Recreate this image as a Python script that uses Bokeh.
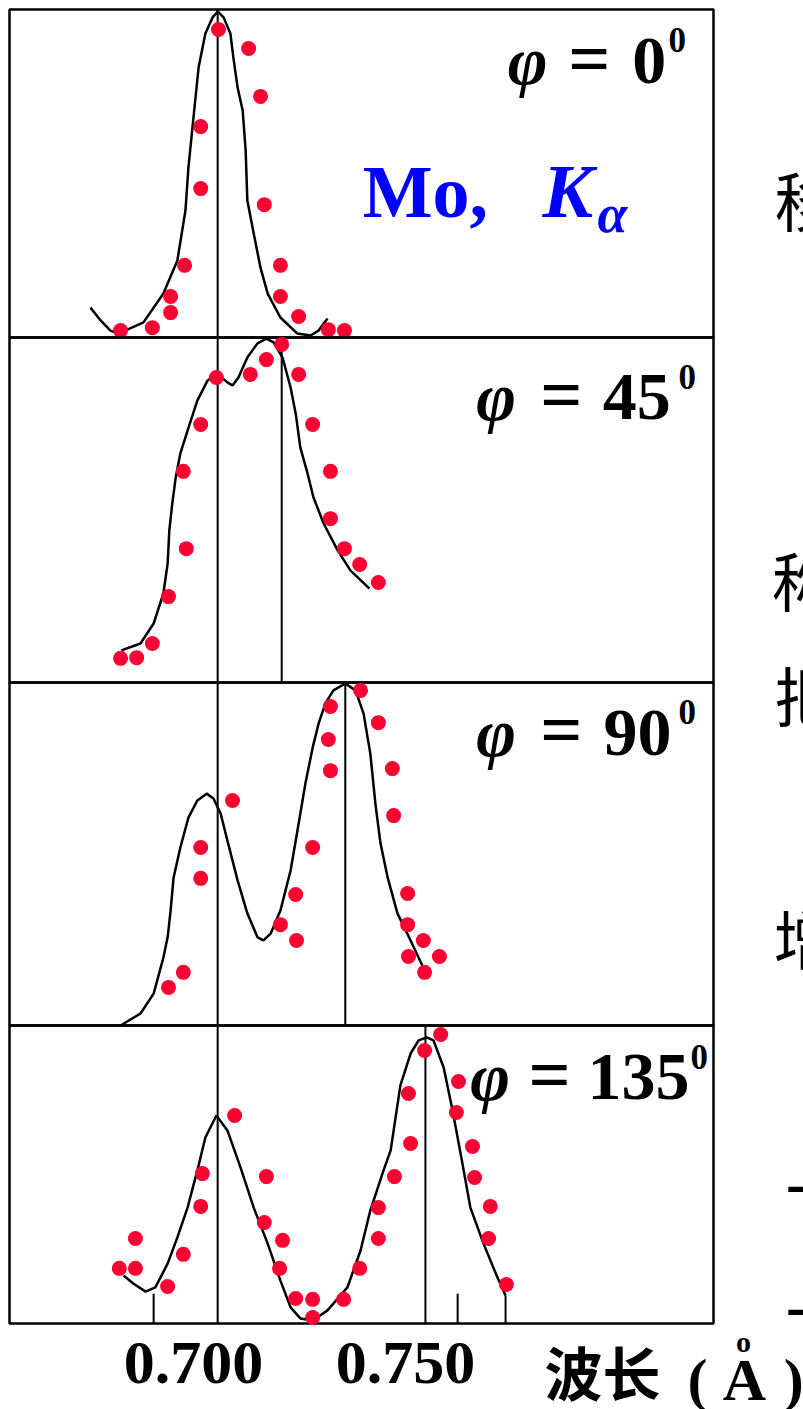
from bokeh.plotting import figure
from bokeh.models import Range1d, Label
from bokeh.embed import file_html
from bokeh.resources import INLINE
from bokeh.core.properties import value

# Compton scattering of Mo K-alpha: intensity vs wavelength (Å) for four angles.
# Intensities are relative to the height of each panel.

angles = ["0", "45", "90", "135"]
unshifted_line = 0.7057
shifted_lines = [None, 0.7208, 0.7358, 0.7547]

# phi = 0
curve_wl_0 = [0.6757, 0.6781, 0.6804, 0.6823, 0.6882, 0.6929, 0.6962, 0.6981, 0.6988, 0.7000,
              0.7012, 0.7028, 0.7045, 0.7057, 0.7071, 0.7087, 0.7094, 0.7104, 0.7116, 0.7123,
              0.7127, 0.7142, 0.7158, 0.7175, 0.7205, 0.7245, 0.7276, 0.7295, 0.7316]
curve_i_0 = [0.091, 0.052, 0.021, 0.012, 0.046, 0.134, 0.235, 0.387, 0.518, 0.671,
             0.823, 0.927, 0.976, 0.994, 0.976, 0.927, 0.854, 0.762, 0.692, 0.570,
             0.418, 0.317, 0.213, 0.134, 0.061, 0.012, 0.006, 0.021, 0.058]
meas_wl_0 = [0.6828, 0.6903, 0.6946, 0.6946, 0.6979, 0.7017, 0.7017, 0.7059, 0.7130, 0.7158,
             0.7167, 0.7205, 0.7205, 0.7248, 0.7318, 0.7356]
meas_i_0 = [0.021, 0.030, 0.076, 0.125, 0.220, 0.454, 0.643, 0.939, 0.881, 0.735,
            0.405, 0.220, 0.125, 0.064, 0.024, 0.021]

# phi = 45
curve_wl_45 = [0.6830, 0.6875, 0.6906, 0.6929, 0.6939, 0.6943, 0.6950, 0.6958, 0.6969, 0.6986,
               0.7009, 0.7033, 0.7054, 0.7080, 0.7092, 0.7106, 0.7127, 0.7151, 0.7172, 0.7189,
               0.7210, 0.7229, 0.7241, 0.7252, 0.7269, 0.7283, 0.7307, 0.7340, 0.7370, 0.7415]
curve_i_45 = [0.093, 0.113, 0.171, 0.258, 0.345, 0.441, 0.519, 0.594, 0.664, 0.730,
              0.817, 0.875, 0.896, 0.870, 0.861, 0.884, 0.942, 0.983, 0.997, 0.986,
              0.942, 0.855, 0.780, 0.681, 0.606, 0.536, 0.461, 0.383, 0.325, 0.272]
meas_wl_45 = [0.6828, 0.6866, 0.6903, 0.6941, 0.6983, 0.6976, 0.7017, 0.7054, 0.7134, 0.7172,
              0.7208, 0.7248, 0.7281, 0.7323, 0.7323, 0.7356, 0.7392, 0.7436]
meas_i_45 = [0.070, 0.072, 0.113, 0.249, 0.388, 0.612, 0.748, 0.884, 0.893, 0.936,
             0.980, 0.893, 0.748, 0.612, 0.475, 0.388, 0.342, 0.290]

# phi = 90
curve_wl_90 = [0.6828, 0.6875, 0.6906, 0.6929, 0.6939, 0.6946, 0.6953, 0.6969, 0.6988, 0.7009,
               0.7031, 0.7047, 0.7064, 0.7080, 0.7104, 0.7127, 0.7151, 0.7165, 0.7182, 0.7205,
               0.7229, 0.7248, 0.7264, 0.7281, 0.7295, 0.7311, 0.7330, 0.7358, 0.7382, 0.7401,
               0.7417, 0.7429, 0.7441, 0.7458, 0.7481, 0.7512, 0.7554]
curve_i_90 = [0.000, 0.035, 0.093, 0.198, 0.257, 0.335, 0.431, 0.519, 0.606, 0.656,
              0.676, 0.662, 0.618, 0.539, 0.423, 0.327, 0.257, 0.248, 0.268, 0.335,
              0.452, 0.589, 0.706, 0.810, 0.880, 0.939, 0.977, 0.997, 0.977, 0.910,
              0.793, 0.647, 0.531, 0.431, 0.327, 0.248, 0.137]
meas_wl_90 = [0.6941, 0.6976, 0.7017, 0.7017, 0.7092, 0.7205, 0.7243, 0.7241, 0.7281, 0.7323,
              0.7318, 0.7323, 0.7394, 0.7436, 0.7469, 0.7472, 0.7505, 0.7505, 0.7542, 0.7507,
              0.7580, 0.7545]
meas_i_90 = [0.111, 0.155, 0.429, 0.519, 0.656, 0.294, 0.248, 0.382, 0.519, 0.743,
             0.834, 0.930, 0.977, 0.883, 0.749, 0.612, 0.385, 0.294, 0.248, 0.201,
             0.201, 0.155]

# phi = 135
curve_wl_135 = [0.6835, 0.6858, 0.6887, 0.6910, 0.6939, 0.6962, 0.6986, 0.7009, 0.7028, 0.7054,
                0.7080, 0.7111, 0.7142, 0.7175, 0.7205, 0.7229, 0.7252, 0.7281, 0.7316, 0.7363,
                0.7394, 0.7417, 0.7448, 0.7465, 0.7488, 0.7512, 0.7531, 0.7550, 0.7566, 0.7590,
                0.7611, 0.7630, 0.7653, 0.7684, 0.7717, 0.7736]
curve_i_135 = [0.161, 0.134, 0.107, 0.121, 0.201, 0.289, 0.389, 0.513, 0.624, 0.698,
               0.648, 0.523, 0.389, 0.268, 0.144, 0.054, 0.017, 0.010, 0.044, 0.121,
               0.245, 0.379, 0.513, 0.581, 0.799, 0.906, 0.950, 0.960, 0.950, 0.859,
               0.715, 0.570, 0.389, 0.268, 0.154, 0.094]
meas_wl_135 = [0.6825, 0.6863, 0.6863, 0.6939, 0.6976, 0.7017, 0.7021, 0.7097, 0.7172, 0.7167,
               0.7210, 0.7203, 0.7241, 0.7281, 0.7281, 0.7354, 0.7392, 0.7436, 0.7436, 0.7474,
               0.7512, 0.7507, 0.7545, 0.7583, 0.7625, 0.7620, 0.7658, 0.7663, 0.7700, 0.7696,
               0.7738]
meas_i_135 = [0.185, 0.285, 0.185, 0.124, 0.232, 0.393, 0.503, 0.698, 0.493, 0.339,
              0.279, 0.185, 0.084, 0.081, 0.020, 0.081, 0.185, 0.285, 0.389, 0.493,
              0.604, 0.772, 0.916, 0.970, 0.812, 0.708, 0.594, 0.490, 0.393, 0.285,
              0.131]

curves_wl = [curve_wl_0, curve_wl_45, curve_wl_90, curve_wl_135]
curves_i = [curve_i_0, curve_i_45, curve_i_90, curve_i_135]
meas_wl = [meas_wl_0, meas_wl_45, meas_wl_90, meas_wl_135]
meas_i = [meas_i_0, meas_i_45, meas_i_90, meas_i_135]

tick_values = [0.700, 0.750]
tick_labels = ["0.700", "0.750"]
bottom_marks = [0.6906, 0.7623, 0.7736]
bottom_mark_heights = [0.100, 0.100, 0.094]

RED = "#FF0033"
BLUE = "#0000FF"
SERIF = "Liberation Serif"
CJK = "Noto Sans CJK SC"

# ---- geometry: one canvas, four stacked panels, each with its own intensity scale ----
W, H = 803, 1409
panel_bottom_px = [337, 682, 1025, 1323]
panel_height_px = [328, 345, 343, 298]
box_left, box_right = 0.656604, 0.822642          # panel box edges (Å)
view = Range1d(0.654481, 0.843868)                 # whole canvas width (Å)

panel_ranges = [Range1d((b - H) / h, b / h) for b, h in zip(panel_bottom_px, panel_height_px)]
range_names = ["default", "p1", "p2", "p3"]

p = figure(width=W, height=H, x_range=view, y_range=panel_ranges[0],
           output_backend="svg", toolbar_location=None,
           x_axis_location=None, y_axis_location=None, min_border=0)
p.extra_y_ranges = {range_names[k]: panel_ranges[k] for k in range(1, 4)}
p.grid.visible = False
p.outline_line_color = None
p.background_fill_color = "white"
p.border_fill_color = "white"


def lift(k, size):
    # raise an alphabetic baseline by ~0.39 em so the glyphs sit on the requested line
    return 0.39 * size / panel_height_px[k]


def put(k, x, y, text, size, style="bold", font=SERIF, color="black",
        align="left", baseline="alphabetic"):
    yy = y + (lift(k, size) if baseline == "alphabetic" else 0)
    p.add_layout(Label(x=x, y=yy, text=text, text_font=font, y_range_name=range_names[k],
                       text_font_size=f"{size}px", text_font_style=style,
                       text_color=color, text_align=align, text_baseline=baseline))


# label positions for "phi = N°" in each panel (wavelength / intensity units)
angle_label_pos = [
    dict(phi=0.7741, eq=0.7884, num=0.8035, sup=0.8120, base=0.762, sup_base=0.866),
    dict(phi=0.7667, eq=0.7818, num=0.7965, sup=0.8144, base=0.751, sup_base=0.846),
    dict(phi=0.7667, eq=0.7818, num=0.7967, sup=0.8144, base=0.776, sup_base=0.875),
    dict(phi=0.7653, eq=0.7790, num=0.7929, sup=0.8172, base=0.738, sup_base=0.849),
]

for k in range(4):
    rn = range_names[k]
    # panel box
    p.quad(left=box_left, right=box_right, bottom=0, top=1, y_range_name=rn,
           fill_color=None, line_color="black", line_width=2.5)
    # reference wavelength lines
    p.segment(x0=unshifted_line, y0=0, x1=unshifted_line, y1=1, y_range_name=rn,
              line_color="black", line_width=2)
    if shifted_lines[k] is not None:
        p.segment(x0=shifted_lines[k], y0=0, x1=shifted_lines[k], y1=1, y_range_name=rn,
                  line_color="black", line_width=2)
    # fitted profile and measured points
    p.line(curves_wl[k], curves_i[k], y_range_name=rn, line_color="black", line_width=2.5)
    p.scatter(meas_wl[k], meas_i[k], y_range_name=rn, marker="circle", size=15,
              fill_color=RED, line_color=None)

    pos = angle_label_pos[k]
    put(k, pos["phi"], pos["base"], "φ", 68, style="bold italic")
    put(k, pos["eq"], pos["base"], "=", 74)
    put(k, pos["num"], pos["base"], angles[k], 68)
    put(k, pos["sup"], pos["sup_base"], "0", 35)

# Mo K-alpha caption
put(0, 0.7399, 0.357, "Mo,", 74, color=BLUE)
put(0, 0.7823, 0.357, "K", 76, style="bold italic", color=BLUE)
put(0, 0.7953, 0.311, "α", 54, style="bold italic", color=BLUE)

# fragments of the neighbouring page text along the right edge: (panel, char, x, y)
side_text = [
    (0, "移", 0.8370, 0.424),
    (1, "称", 0.8363, 0.304),
    (2, "把", 0.8370, 0.968),
    (2, "增", 0.8368, 0.262),
    (3, "一", 0.8396, 0.463),
    (3, "一", 0.8396, 0.050),
]
for (k, ch, x, y) in side_text:
    put(k, x, y, ch, 64, style="normal", font=CJK, baseline="middle")

# bottom panel: short marks, tick labels and axis title
p.segment(x0=bottom_marks, y0=[0] * len(bottom_marks), x1=bottom_marks,
          y1=bottom_mark_heights, y_range_name="p3", line_color="black", line_width=2)
tick_base = -0.215 + lift(3, 62)
p.text(x=tick_values, y=[tick_base] * len(tick_values), text=tick_labels,
       y_range_name="p3", text_font=value(SERIF), text_font_style="bold",
       text_font_size="62px", text_color="black", text_align="center",
       text_baseline="alphabetic")

put(3, 0.7828, -0.158, "波长", 58, font=CJK, baseline="middle")
put(3, 0.8165, -0.268, "(", 60)
put(3, 0.8248, -0.268, "A", 60)
put(3, 0.8297, -0.101, "o", 30, align="center")
put(3, 0.8392, -0.268, ")", 60)

open("out.html", "w").write(file_html(p, INLINE))
